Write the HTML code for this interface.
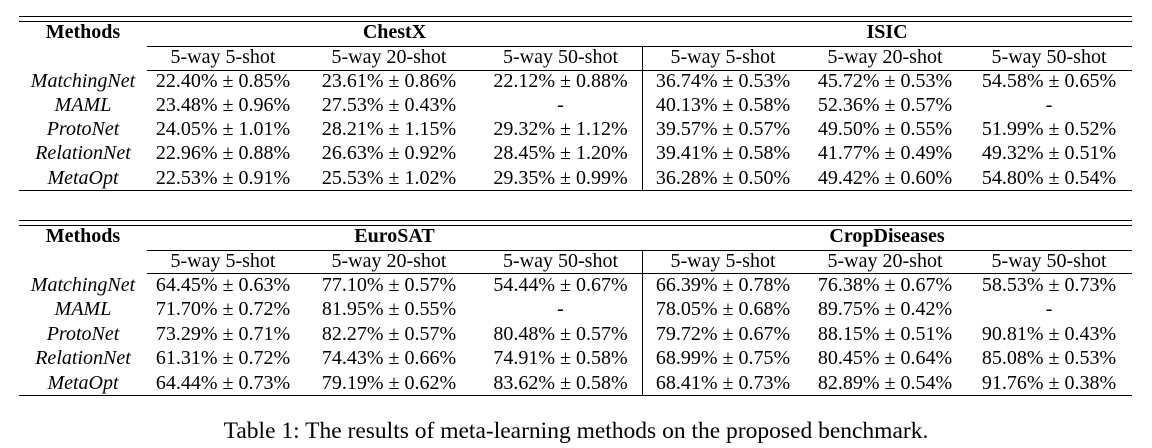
<!DOCTYPE html>
<html><head><meta charset="utf-8">
<style>
body{margin:0;background:#fff;}
#page{position:relative;width:1152px;height:448px;overflow:hidden;background:#fff;font-family:"Liberation Serif",serif;color:#000;}
.rule{position:absolute;background:#000;height:1.3px;}
.vr{position:absolute;background:#000;width:1.2px;}
table{position:absolute;left:19px;width:1113px;border-collapse:collapse;table-layout:fixed;font-size:20px;}
td{padding:0 0 3px 0;text-align:center;vertical-align:middle;white-space:nowrap;line-height:18px;}
.b{font-weight:bold;}
.i{font-style:italic;}
.h1 td{height:22.7px;}
.h2 td{height:20.6px;}
.r td{height:21.2px;}
.t2 .r td{height:21.4px;}
#caption{position:absolute;left:0;width:1152px;top:418px;text-align:center;font-size:23.5px;}
</style></head><body>
<div id="page">
<div class="rule" style="left:19px;width:1113px;top:15.5px"></div>
<div class="rule" style="left:19px;width:1113px;top:20.5px"></div>
<div class="rule" style="left:147px;width:985px;top:46px"></div>
<div class="rule" style="left:147px;width:985px;top:69.5px"></div>
<div class="rule" style="left:19px;width:1113px;top:190px"></div>
<div class="vr" style="left:641.5px;top:46px;height:145px"></div>
<table style="top:21px">
<colgroup><col style="width:128px"><col style="width:152px"><col style="width:180px"><col style="width:163px"><col style="width:162px"><col style="width:162px"><col style="width:166px"></colgroup>
<tr class="h1"><td class="b">Methods</td><td colspan="3" class="b">ChestX</td><td colspan="3" class="b">ISIC</td></tr>
<tr class="h2"><td></td><td>5-way 5-shot</td><td>5-way 20-shot</td><td>5-way 50-shot</td><td>5-way 5-shot</td><td>5-way 20-shot</td><td>5-way 50-shot</td></tr>
<tr class="r"><td class="i">MatchingNet</td><td>22.40% ± 0.85%</td><td>23.61% ± 0.86%</td><td>22.12% ± 0.88%</td><td>36.74% ± 0.53%</td><td>45.72% ± 0.53%</td><td>54.58% ± 0.65%</td></tr>
<tr class="r"><td class="i">MAML</td><td>23.48% ± 0.96%</td><td>27.53% ± 0.43%</td><td>-</td><td>40.13% ± 0.58%</td><td>52.36% ± 0.57%</td><td>-</td></tr>
<tr class="r"><td class="i">ProtoNet</td><td>24.05% ± 1.01%</td><td>28.21% ± 1.15%</td><td>29.32% ± 1.12%</td><td>39.57% ± 0.57%</td><td>49.50% ± 0.55%</td><td>51.99% ± 0.52%</td></tr>
<tr class="r"><td class="i">RelationNet</td><td>22.96% ± 0.88%</td><td>26.63% ± 0.92%</td><td>28.45% ± 1.20%</td><td>39.41% ± 0.58%</td><td>41.77% ± 0.49%</td><td>49.32% ± 0.51%</td></tr>
<tr class="r"><td class="i">MetaOpt</td><td>22.53% ± 0.91%</td><td>25.53% ± 1.02%</td><td>29.35% ± 0.99%</td><td>36.28% ± 0.50%</td><td>49.42% ± 0.60%</td><td>54.80% ± 0.54%</td></tr>
</table>
<div class="rule" style="left:19px;width:1113px;top:220px"></div>
<div class="rule" style="left:19px;width:1113px;top:224.7px"></div>
<div class="rule" style="left:147px;width:985px;top:249.7px"></div>
<div class="rule" style="left:147px;width:985px;top:272.7px"></div>
<div class="rule" style="left:19px;width:1113px;top:394.7px"></div>
<div class="vr" style="left:641.5px;top:249.7px;height:146px"></div>
<table class="t2" style="top:225px">
<colgroup><col style="width:128px"><col style="width:152px"><col style="width:180px"><col style="width:163px"><col style="width:162px"><col style="width:162px"><col style="width:166px"></colgroup>
<tr class="h1"><td class="b">Methods</td><td colspan="3" class="b">EuroSAT</td><td colspan="3" class="b">CropDiseases</td></tr>
<tr class="h2"><td></td><td>5-way 5-shot</td><td>5-way 20-shot</td><td>5-way 50-shot</td><td>5-way 5-shot</td><td>5-way 20-shot</td><td>5-way 50-shot</td></tr>
<tr class="r"><td class="i">MatchingNet</td><td>64.45% ± 0.63%</td><td>77.10% ± 0.57%</td><td>54.44% ± 0.67%</td><td>66.39% ± 0.78%</td><td>76.38% ± 0.67%</td><td>58.53% ± 0.73%</td></tr>
<tr class="r"><td class="i">MAML</td><td>71.70% ± 0.72%</td><td>81.95% ± 0.55%</td><td>-</td><td>78.05% ± 0.68%</td><td>89.75% ± 0.42%</td><td>-</td></tr>
<tr class="r"><td class="i">ProtoNet</td><td>73.29% ± 0.71%</td><td>82.27% ± 0.57%</td><td>80.48% ± 0.57%</td><td>79.72% ± 0.67%</td><td>88.15% ± 0.51%</td><td>90.81% ± 0.43%</td></tr>
<tr class="r"><td class="i">RelationNet</td><td>61.31% ± 0.72%</td><td>74.43% ± 0.66%</td><td>74.91% ± 0.58%</td><td>68.99% ± 0.75%</td><td>80.45% ± 0.64%</td><td>85.08% ± 0.53%</td></tr>
<tr class="r"><td class="i">MetaOpt</td><td>64.44% ± 0.73%</td><td>79.19% ± 0.62%</td><td>83.62% ± 0.58%</td><td>68.41% ± 0.73%</td><td>82.89% ± 0.54%</td><td>91.76% ± 0.38%</td></tr>
</table>
<div id="caption">Table 1: The results of meta-learning methods on the proposed benchmark.</div>
</div>
</body></html>
